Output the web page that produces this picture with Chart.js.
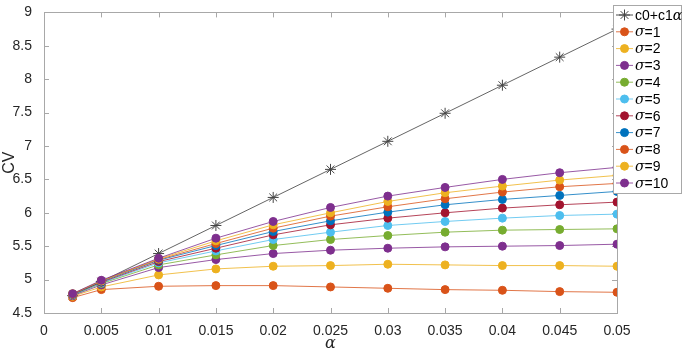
<!DOCTYPE html>
<html>
<head>
<meta charset="utf-8">
<script src="https://cdn.jsdelivr.net/npm/chart.js@4.4.1/dist/chart.umd.min.js"></script>
<style>
  body { margin: 0; background: #fff; }
  #wrap { width: 683px; height: 353px; }
</style>
</head>
<body>
<div id="wrap"><canvas id="cvChart"></canvas></div>
<script>
// values
const alpha = [0.0025, 0.005, 0.01, 0.015, 0.02, 0.025, 0.03, 0.035, 0.04, 0.045, 0.05];
const fitLine = [4.76, 4.97, 5.39, 5.81, 6.23, 6.65, 7.07, 7.49, 7.91, 8.33, 8.75];
const sigma1  = [4.73, 4.85, 4.90, 4.91, 4.91, 4.89, 4.87, 4.85, 4.84, 4.82, 4.81];
const sigma2  = [4.75, 4.89, 5.07, 5.16, 5.20, 5.21, 5.23, 5.22, 5.21, 5.21, 5.20];
const sigma3  = [4.76, 4.92, 5.18, 5.30, 5.39, 5.44, 5.47, 5.49, 5.50, 5.51, 5.53];
const sigma4  = [4.77, 4.94, 5.22, 5.37, 5.51, 5.60, 5.66, 5.71, 5.74, 5.75, 5.76];
const sigma5  = [4.77, 4.95, 5.25, 5.43, 5.60, 5.71, 5.81, 5.87, 5.92, 5.96, 5.98];
const sigma6  = [4.78, 4.96, 5.27, 5.47, 5.67, 5.82, 5.92, 6.00, 6.07, 6.12, 6.16];
const sigma7  = [4.78, 4.97, 5.29, 5.51, 5.72, 5.88, 6.01, 6.12, 6.20, 6.26, 6.32];
const sigma8  = [4.78, 4.98, 5.30, 5.54, 5.77, 5.95, 6.09, 6.21, 6.31, 6.39, 6.44];
const sigma9  = [4.79, 4.98, 5.31, 5.58, 5.82, 6.00, 6.17, 6.30, 6.40, 6.49, 6.56];
const sigma10 = [4.79, 4.99, 5.32, 5.62, 5.87, 6.08, 6.25, 6.38, 6.50, 6.60, 6.68];

const sigmaSeries = [sigma1, sigma2, sigma3, sigma4, sigma5, sigma6, sigma7, sigma8, sigma9, sigma10];
const sigmaLabels = ['σ=1', 'σ=2', 'σ=3', 'σ=4', 'σ=5', 'σ=6', 'σ=7', 'σ=8', 'σ=9', 'σ=10'];
const sigmaColors = ['#D95319', '#EDB120', '#7E2F8E', '#77AC30', '#4DBEEE',
                     '#A2142F', '#0072BD', '#D95319', '#EDB120', '#7E2F8E'];

const xTicks = [0, 0.005, 0.01, 0.015, 0.02, 0.025, 0.03, 0.035, 0.04, 0.045, 0.05];
const xTickLabels = ['0', '0.005', '0.01', '0.015', '0.02', '0.025', '0.03', '0.035', '0.04', '0.045', '0.05'];
const yTicks = [4.5, 5, 5.5, 6, 6.5, 7, 7.5, 8, 8.5, 9];
const yTickLabels = ['4.5', '5', '5.5', '6', '6.5', '7', '7.5', '8', '8.5', '9'];

const FONT = '"Liberation Sans", Arial, sans-serif';
const GREEK = '"DejaVu Serif", serif';

function toPoints(vals) {
    return alpha.map((a, i) => ({x: a, y: vals[i]}));
}

let datasets = [{
    label: 'c0+c1α',
    data: toPoints(fitLine),
    borderColor: '#222',
    borderWidth: 0.7,
    pointStyle: 'star',
    pointRadius: 5.5,
    pointBorderColor: '#444',
    pointBorderWidth: 1,
    pointBackgroundColor: 'rgba(0,0,0,0)',
    order: 20
}];
for (let i = 0; i < sigmaSeries.length; i += 1) {
    datasets.push({
        label: sigmaLabels[i],
        data: toPoints(sigmaSeries[i]),
        borderColor: sigmaColors[i],
        borderWidth: 0.8,
        pointStyle: 'circle',
        pointRadius: 4,
        pointBackgroundColor: sigmaColors[i],
        pointBorderColor: sigmaColors[i],
        pointBorderWidth: 1,
        order: 10 - i
    });
}

// box around the axes with inward tick marks, like matlab
const boxPlugin = {
    id: 'box',
    beforeDatasetsDraw(chart) {
        const {ctx, chartArea: a, scales: {x, y}} = chart;
        ctx.save();
        ctx.strokeStyle = '#a8a8a8';
        ctx.lineWidth = 1;
        ctx.strokeRect(Math.round(a.left) + 0.5, Math.round(a.top) + 0.5,
                       Math.round(a.right - a.left), Math.round(a.bottom - a.top));
        ctx.beginPath();
        x.ticks.forEach(t => {
            const px = Math.round(x.getPixelForValue(t.value)) + 0.5;
            ctx.moveTo(px, a.bottom); ctx.lineTo(px, a.bottom - 5);
            ctx.moveTo(px, a.top); ctx.lineTo(px, a.top + 5);
        });
        y.ticks.forEach(t => {
            const py = Math.round(y.getPixelForValue(t.value)) + 0.5;
            ctx.moveTo(a.left, py); ctx.lineTo(a.left + 5, py);
            ctx.moveTo(a.right, py); ctx.lineTo(a.right - 5, py);
        });
        ctx.stroke();
        ctx.restore();
    }
};

function drawRich(ctx, str, x, y, size) {
    for (const ch of str) {
        if (/[α-ω]/.test(ch)) {
            ctx.font = 'italic ' + size + 'px ' + GREEK;
        } else {
            ctx.font = size + 'px ' + FONT;
        }
        ctx.fillText(ch, x, y);
        x += ctx.measureText(ch).width;
    }
}

// legend box sitting over the top right corner
const legendPlugin = {
    id: 'boxLegend',
    afterDraw(chart) {
        const ctx = chart.ctx;
        const left = 613, top = 5, w = 69, h = 188;
        ctx.save();
        ctx.fillStyle = '#fff';
        ctx.fillRect(left, top, w, h);
        ctx.strokeStyle = '#a8a8a8';
        ctx.lineWidth = 1;
        ctx.strokeRect(left + 0.5, top + 0.5, w - 1, h);
        chart.data.datasets.forEach((ds, i) => {
            const cy = top + 10 + i * 16.8;
            ctx.strokeStyle = ds.borderColor;
            ctx.lineWidth = 0.8;
            ctx.beginPath();
            ctx.moveTo(left + 3, cy);
            ctx.lineTo(left + 20, cy);
            ctx.stroke();
            ctx.strokeStyle = ds.pointBorderColor;
            ctx.fillStyle = ds.pointBackgroundColor;
            ctx.lineWidth = ds.pointBorderWidth;
            Chart.helpers.drawPoint(ctx, {
                pointStyle: ds.pointStyle,
                radius: ds.pointRadius,
                rotation: 0,
                borderWidth: ds.pointBorderWidth
            }, left + 11.5, cy);
            ctx.fillStyle = '#000';
            ctx.textBaseline = 'middle';
            drawRich(ctx, ds.label, left + 22, cy + 1, 14);
        });
        ctx.restore();
    }
};

var ctx = document.getElementById('cvChart').getContext('2d');
window.cvChart = new Chart(ctx, {
    type: 'line',
    data: {datasets: datasets},
    options: {
        responsive: true,
        maintainAspectRatio: false,
        animation: false,
        layout: {padding: {left: 0, right: 66, top: 5, bottom: 0}},
        plugins: {
            legend: {display: false},
            tooltip: {enabled: false}
        },
        scales: {
            x: {
                type: 'linear',
                min: 0,
                max: 0.05,
                afterBuildTicks: s => { s.ticks = xTicks.map(v => ({value: v})); },
                afterFit: s => { s.height = 40; },
                grid: {display: false},
                border: {display: false},
                ticks: {
                    color: '#262626',
                    font: {family: FONT, size: 14},
                    padding: 2,
                    maxRotation: 0,
                    callback: (v, i) => xTickLabels[i]
                },
                title: {
                    display: true,
                    text: 'α',
                    color: '#262626',
                    font: {family: GREEK, size: 16, style: 'italic'},
                    padding: {top: 0, bottom: 0}
                }
            },
            y: {
                type: 'linear',
                min: 4.5,
                max: 9,
                afterBuildTicks: s => { s.ticks = yTicks.map(v => ({value: v})); },
                afterFit: s => { s.width = 44; },
                grid: {display: false},
                border: {display: false},
                ticks: {
                    color: '#262626',
                    font: {family: FONT, size: 14},
                    padding: 4,
                    callback: (v, i) => yTickLabels[i]
                },
                title: {
                    display: true,
                    text: 'CV',
                    color: '#262626',
                    font: {family: FONT, size: 16},
                    padding: {top: 0, bottom: 2}
                }
            }
        }
    },
    plugins: [boxPlugin, legendPlugin]
});
</script>
</body>
</html>
